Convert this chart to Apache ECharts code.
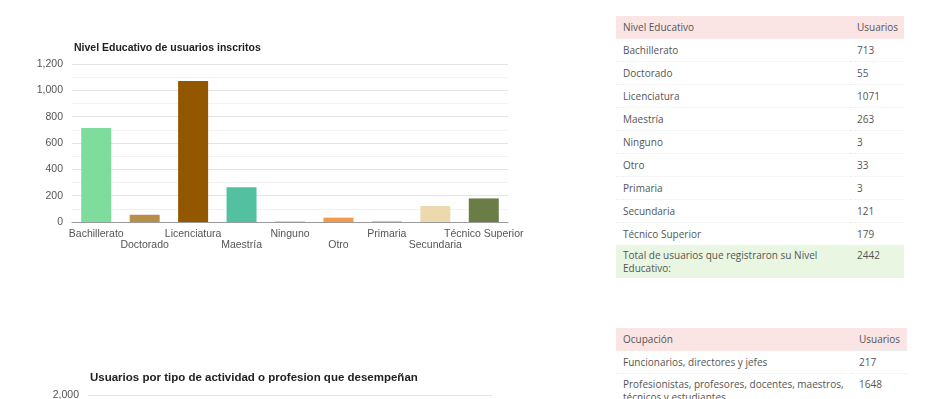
<!DOCTYPE html>
<html lang="es">
<head>
<meta charset="utf-8">
<title>Usuarios inscritos</title>
<script src="https://cdn.jsdelivr.net/npm/echarts@6/dist/echarts.min.js"></script>
<style>
  html, body { margin: 0; padding: 0; background: #fff; overflow: hidden; width: 949px; height: 399px; }
  .chart { position: absolute; }
  table.resumen {
    position: absolute; border-collapse: collapse; table-layout: fixed;
    font-family: "Open Sans", sans-serif; font-size: 10px; color: #555;
  }
  table.resumen th { font-weight: normal; text-align: left; background: #fbe4e4; height: 22px; padding: 0 7px; }
  table.resumen td { height: 22px; padding: 0 7px; border-top: 1px dotted #ececec; line-height: 13px; }
  table.resumen tr.doble td { vertical-align: top; padding-top: 4px; height: 28px; }
  table.resumen tr.total td { background: #e9f6e2; height: 29px; border-top: none; vertical-align: top; padding-top: 4px; }
</style>
</head>
<body>
<div id="nivel" class="chart" style="left:0;top:0;width:560px;height:290px;"></div>
<div id="ocupacion" class="chart" style="left:0;top:330px;width:560px;height:300px;"></div>
<table id="tablaNivel" class="resumen" style="left:616px;top:16px;width:288px;"></table>
<table id="tablaOcupacion" class="resumen" style="left:616px;top:328px;width:291px;"></table>
<script>
// Nivel educativo
const nivelCategorias = ['Bachillerato', 'Doctorado', 'Licenciatura', 'Maestría', 'Ninguno', 'Otro', 'Primaria', 'Secundaria', 'Técnico Superior'];
const nivelUsuarios = [713, 55, 1071, 263, 3, 33, 3, 121, 179];
const nivelTotal = 2442;
const nivelTicks = [0, 200, 400, 600, 800, 1000, 1200];

// Ocupación
const ocupaciones = ['Funcionarios, directores y jefes', 'Profesionistas, profesores, docentes, maestros, técnicos y estudiantes'];
const ocupacionUsuarios = [217, 1648];
const ocupacionTicks = [0, 500, 1000, 1500, 2000];

const paletaNivel = ['#7edc9d', '#b88f49', '#935700', '#53c19f', '#9a8f98', '#f29a4a', '#4b84c4', '#ecd9ae', '#6a7d47'];

const fmt = v => v.toLocaleString('en-US');
const axisFont = { fontFamily: 'Arial, "Liberation Sans", sans-serif', fontSize: 10.5, color: '#555' };

function barOption(titulo, tituloSize, categorias, valores, colores, ticks, titleTop, grid, stagger) {
  const step = ticks[1] - ticks[0];
  return {
    animation: false,
    title: {
      text: titulo, left: grid.left + 2, top: titleTop, padding: 0,
      textStyle: { fontFamily: 'Arial, "Liberation Sans", sans-serif', fontSize: tituloSize, fontWeight: 'bold', color: '#222' }
    },
    grid: grid,
    xAxis: {
      type: 'category', data: categorias,
      axisTick: { show: false },
      axisLine: { lineStyle: { color: '#9a9a9a', width: 1 } },
      axisLabel: Object.assign({
        interval: 0, margin: 7, lineHeight: 11,
        formatter: (v, i) => (stagger && i % 2 === 1) ? '\n' + v : v
      }, axisFont)
    },
    yAxis: {
      type: 'value', min: ticks[0], max: ticks[ticks.length - 1], interval: step,
      axisLine: { show: false }, axisTick: { show: false },
      axisLabel: Object.assign({ margin: 9, formatter: fmt }, axisFont),
      splitLine: { lineStyle: { color: '#e4e4e4', width: 1 } },
      minorTick: { show: false, splitNumber: 2 },
      minorSplitLine: { show: true, lineStyle: { color: '#f3f3f3', width: 1 } }
    },
    series: [{
      type: 'bar', barWidth: 30,
      data: valores.map((v, i) => ({ value: v, itemStyle: { color: colores[i % colores.length] } }))
    }]
  };
}

echarts.init(document.getElementById('nivel')).setOption(
  barOption('Nivel Educativo de usuarios inscritos', 10.5, nivelCategorias, nivelUsuarios, paletaNivel, nivelTicks,
    43, { left: 72, right: 52, top: 64, bottom: 68 }, true)
);

echarts.init(document.getElementById('ocupacion')).setOption(
  barOption('Usuarios por tipo de actividad o profesion que desempeñan', 11.5, ocupaciones, ocupacionUsuarios,
    ['#6f9fd8', '#e69a57'], ocupacionTicks, 42, { left: 88, right: 68, top: 65, bottom: 40 }, false)
);

// Tablas de resumen
function buildTable(id, encabezado, etiquetas, valores, total) {
  const t = document.getElementById(id);
  let html = '<colgroup><col style="width:' + (id === 'tablaNivel' ? 234 : 236) + 'px"><col></colgroup>';
  html += '<tr><th>' + encabezado + '</th><th>Usuarios</th></tr>';
  etiquetas.forEach((e, i) => {
    const cls = e.length > 45 ? ' class="doble"' : '';
    html += '<tr' + cls + '><td>' + e + '</td><td>' + valores[i] + '</td></tr>';
  });
  if (total !== undefined) {
    html += '<tr class="total"><td>Total de usuarios que registraron su Nivel Educativo:</td><td>' + total + '</td></tr>';
  }
  t.innerHTML = html;
}
buildTable('tablaNivel', 'Nivel Educativo', nivelCategorias, nivelUsuarios, nivelTotal);
buildTable('tablaOcupacion', 'Ocupación', ocupaciones, ocupacionUsuarios);
</script>
</body>
</html>
